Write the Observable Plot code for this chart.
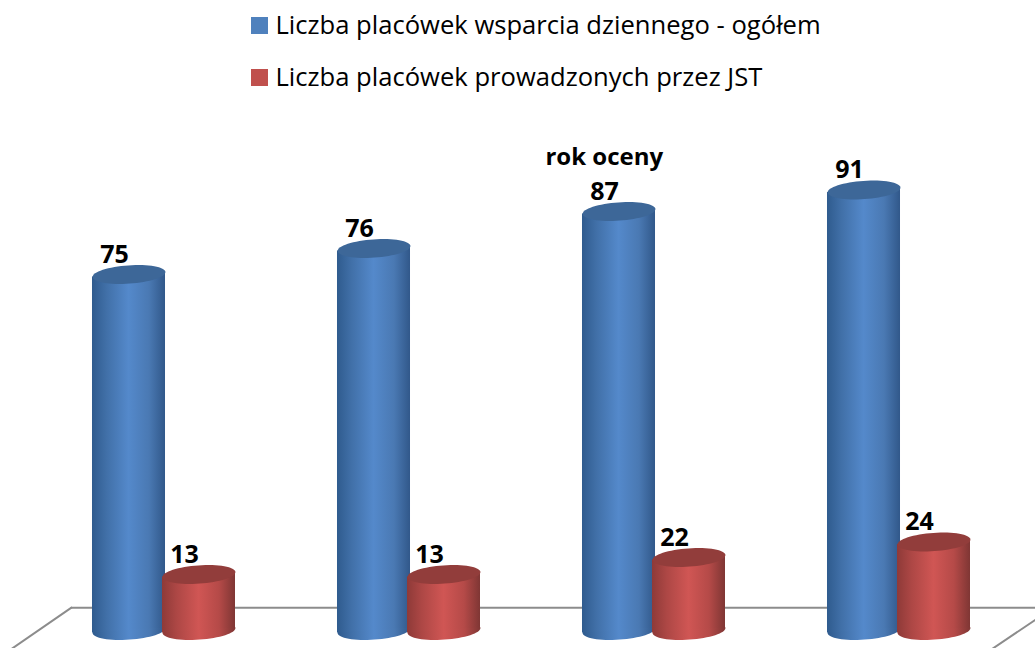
<!DOCTYPE html>
<html lang="pl">
<head>
<meta charset="utf-8">
<script src="https://cdn.jsdelivr.net/npm/d3@7"></script>
<script src="https://cdn.jsdelivr.net/npm/@observablehq/plot@0.6"></script>
<style>
  html, body { margin: 0; padding: 0; background: #fff; width: 1035px; height: 648px; overflow: hidden; }
  #legend { position: relative; height: 100px; font-family: "Open Sans", sans-serif; font-size: 25.6px; color: #000; }
  .item { position: absolute; left: 251px; display: flex; align-items: center; height: 34px; white-space: nowrap; }
  .swatch { width: 17px; height: 17px; margin-right: 7.5px; }
  .item span { position: relative; top: -1px; }
  svg { display: block; }
</style>
</head>
<body>
<div id="legend"></div>
<div id="chart"></div>
<script>
const groups = [0, 1, 2, 3];
const totalPlaces = [75, 76, 87, 91];
const jstPlaces = [13, 13, 22, 24];
const seriesNames = ["Liczba placówek wsparcia dziennego - ogółem", "Liczba placówek prowadzonych przez JST"];
const seriesColors = ["#4f81bd", "#c0504d"];
const annotation = "rok oceny";
const floorBack = [[-0.235, 5.3], [3.7, 5.3]];
const floorLeft = [[-0.235, 5.3], [-0.6, -9]];
const floorRight = [[3.7, 2.5], [3.4, -9]];

const halfWidth = 0.149;
const blueSlot = 0;
const redSlot = 0.2857;
const tiltDeg = -4;
const blue = groups.map((g, i) => ({pos: g + blueSlot, value: totalPlaces[i]}));
const red = groups.map((g, i) => ({pos: g + redSlot, value: jstPlaces[i]}));

const legend = d3.select("#legend");
seriesNames.forEach((name, i) => {
  const item = legend.append("div").attr("class", "item").style("top", (8 + i * 52) + "px");
  item.append("div").attr("class", "swatch").style("background", seriesColors[i]);
  item.append("span").text(name);
});

// A cylinder end: an ellipse tilted slightly by the picture's perspective.
const tiltedEllipse = {
  draw(context, size) {
    const rx = Math.sqrt(size / Math.PI), ry = rx * 0.25, rot = tiltDeg * Math.PI / 180, n = 64;
    for (let k = 0; k < n; ++k) {
      const t = 2 * Math.PI * k / n;
      const ex = rx * Math.cos(t), ey = ry * Math.sin(t);
      const px = ex * Math.cos(rot) - ey * Math.sin(rot);
      const py = ex * Math.sin(rot) + ey * Math.cos(rot);
      k ? context.lineTo(px, py) : context.moveTo(px, py);
    }
    context.closePath();
  }
};

// Shear each cylinder body so its ends follow the tilted ellipses.
function shearBodies(index, scales, values, dimensions, context, next) {
  const g = next(index, scales, values, dimensions, context);
  d3.select(g).selectAll("rect").attr("transform", function () {
    const cx = +this.getAttribute("x") + +this.getAttribute("width") / 2;
    return `translate(${cx},0) skewY(${tiltDeg}) translate(${-cx},0)`;
  });
  return g;
}

function gradients() {
  const defs = d3.create("svg:defs");
  const add = (id, stops) => {
    const g = defs.append("linearGradient").attr("id", id).attr("x1", 0).attr("x2", 1).attr("y1", 0).attr("y2", 0);
    stops.forEach(([o, c]) => g.append("stop").attr("offset", o).attr("stop-color", c));
  };
  add("blueBody", [[0, "#2f5b8e"], [0.2, "#4170a8"], [0.5, "#5489cb"], [0.78, "#4a79b3"], [1, "#31588a"]]);
  add("redBody", [[0, "#8e3a38"], [0.2, "#ad4745"], [0.5, "#d05654"], [0.78, "#b54a48"], [1, "#7f3634"]]);
  return defs.node();
}

function cylinders(data, body, top) {
  return [
    Plot.dot(data, {x: "pos", y: () => 0, r: 36.5, symbol: tiltedEllipse, fill: `url(#${body})`, stroke: "none"}),
    Plot.rect(data, {x1: d => d.pos - halfWidth, x2: d => d.pos + halfWidth, y1: () => 0, y2: "value", fill: `url(#${body})`, render: shearBodies}),
    Plot.dot(data, {x: "pos", y: "value", r: 36.5, symbol: tiltedEllipse, fill: top, stroke: "none"})
  ];
}

const labelStyle = {fontFamily: "'Open Sans', sans-serif", fontWeight: 700, fill: "#000"};
const floorStyle = {x: d => d[0], y: d => d[1], stroke: "#8c8c8c", strokeWidth: 2};

const chart = Plot.plot({
  width: 1035,
  height: 548,
  margin: 0,
  style: {background: "transparent", overflow: "hidden"},
  x: {type: "linear", domain: [0, 3], range: [128.5, 863.5], axis: null},
  y: {type: "linear", domain: [0, 13, 22, 24, 75, 76, 87, 91], range: [530, 474, 457, 441.5, 174, 148, 111, 89.5], axis: null},
  marks: [
    gradients,
    Plot.line(floorBack, floorStyle),
    Plot.line(floorLeft, floorStyle),
    Plot.line(floorRight, floorStyle),
    ...cylinders(blue, "blueBody", "#3d6798"),
    ...cylinders(red, "redBody", "#923d3b"),
    Plot.text(blue, {x: "pos", y: "value", text: d => String(d.value), dx: -14.5, dy: -20, fontSize: 25, ...labelStyle}),
    Plot.text(red, {x: "pos", y: "value", text: d => String(d.value), dx: -14.5, dy: -20, fontSize: 25, ...labelStyle}),
    Plot.text([annotation], {x: () => 1.94, y: () => 97, text: d => d, fontSize: 24, ...labelStyle})
  ]
});
document.getElementById("chart").appendChild(chart);
</script>
</body>
</html>
